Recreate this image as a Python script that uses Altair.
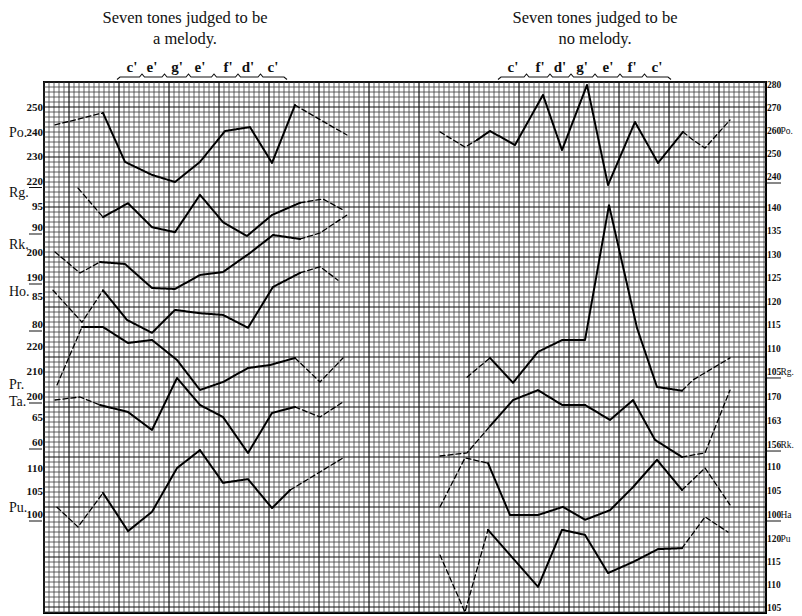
import altair as alt
import numpy as np
import pandas as pd

W, H = 722, 531
XMAX, YMAX = 144.4, 106.2   # plot extent in grid cells
SERIF = "Liberation Serif"

# ---- per-subject axis calibration: value, grid row of that value, rows per unit
calib = {
    "PoL": (250, 5.2, 0.49), "RgL": (95, 25.0, 0.84), "RkL": (200, 34.2, 0.50),
    "HoL": (85, 43.0, 1.12), "PrL": (220, 53.0, 0.50), "TaL": (65, 67.2, 1.00),
    "PuL": (110, 77.4, 0.92),
    "PoR": (280, 0.6, 0.46), "RgR": (140, 25.2, 0.937), "RkR": (170, 63.0, 0.686),
    "HaR": (110, 77.0, 0.96), "PuR": (115, 96.0, 0.92),
}

# ---- left panel: seven tones judged to be a melody
po_l_t = [2.2, 11.8, 16.2, 21.6, 26.2, 31.2, 36.2, 41.2, 45.6, 50.2, 57.8, 60.6]
po_l_v = [243.1, 248, 228, 222.7, 219.8, 228, 240.6, 242.2, 227.6, 251.2, 242.2, 239]
rg_l_t = [6.8, 11.8, 16.8, 21.6, 26.2, 31.2, 35.8, 40.6, 45.6, 51.2, 55.8, 59.8]
rg_l_v = [99.5, 92.6, 95.9, 90.2, 89.0, 97.9, 91.4, 88.1, 93.1, 96.0, 96.9, 94.3]
rk_l_t = [2.2, 7.2, 11.2, 16.2, 21.6, 26.2, 31.2, 35.8, 41.2, 45.8, 51.2, 55.2, 60.6]
rk_l_v = [200.4, 192, 196.4, 195.6, 186, 185.6, 191.2, 192.4, 200, 207.2, 205.6, 208, 215.2]
ho_l_t = [1.8, 7.6, 11.8, 16.6, 21.6, 26.2, 31.2, 35.8, 40.8, 45.8, 51.2, 55.2, 58.8]
ho_l_v = [86.2, 80.5, 86.2, 80.9, 78.6, 82.7, 82.1, 81.8, 79.5, 86.8, 89.3, 90.4, 88.0]
pr_l_t = [2.6, 7.6, 11.8, 16.8, 21.6, 26.6, 31.2, 35.8, 40.8, 45.2, 50.2, 55.2, 59.8]
pr_l_v = [204.8, 228, 228, 221.6, 222.8, 214.8, 202.8, 206, 211.6, 212.8, 215.6, 206, 215.6]
ta_l_t = [2.2, 7.2, 11.2, 16.8, 21.6, 26.6, 31.2, 35.8, 40.8, 45.6, 50.2, 55.2, 59.8]
ta_l_v = [68.6, 69.2, 67.6, 66.2, 62.6, 73, 67.6, 65.2, 58, 66, 67.2, 65.2, 68.2]
pu_l_t = [2.6, 6.8, 11.8, 16.8, 21.6, 26.6, 31.2, 35.8, 40.8, 45.6, 49.2, 59.8]
pu_l_v = [101.7, 97.4, 104.8, 96.5, 100.7, 110.2, 114.1, 107.0, 107.8, 101.5, 105.4, 112.4]

# ---- right panel: seven tones judged to be no melody
po_r_t = [79.2, 84.2, 86.6, 89.2, 94.2, 99.8, 103.6, 108.6, 112.8, 118.2, 122.8, 127.8, 129.8, 132.2, 137.2]
po_r_v = [259.6, 253, 256.1, 260, 253.9, 275.7, 251.7, 280, 236.5, 263.9, 246.1, 259.6, 256.1, 252.6, 264.8]
rg_r_t = [84.6, 89.2, 93.8, 98.8, 103.6, 108.2, 113, 118.6, 122.6, 127.6, 129.8, 137.2]
rg_r_v = [103.9, 108.0, 102.7, 109.3, 111.8, 111.8, 140.6, 114.4, 101.8, 101.0, 103.3, 108.0]
rk_r_t = [79.2, 84.6, 89.2, 93.8, 98.8, 103.6, 108.2, 113.2, 117.8, 122.2, 127.6, 132.2, 137.2]
rk_r_v = [152.8, 153.7, 161.5, 169.1, 172.0, 167.7, 167.7, 163.3, 169.1, 157.5, 152.5, 153.7, 172.0]
ha_r_t = [79.2, 84.2, 88.8, 93.2, 98.8, 103.8, 108.2, 113.2, 117.8, 122.6, 127.6, 132.2, 137.2]
ha_r_v = [101.7, 111.9, 110.8, 100, 100, 101.7, 99.0, 101.0, 105.8, 111.5, 105.2, 109.8, 102.1]
pu_r_t = [79.2, 84.2, 88.8, 98.8, 103.6, 108.2, 112.8, 117.8, 122.8, 127.6, 132.2, 136.8]
pu_r_v = [116.5, 104.1, 122.0, 109.6, 122.0, 120.9, 112.6, 115.0, 117.8, 118.0, 124.8, 121.5]

# key, times, values, first solid index, last solid index
traces = [
    ("PoL", po_l_t, po_l_v, 1, 9), ("RgL", rg_l_t, rg_l_v, 1, 9),
    ("RkL", rk_l_t, rk_l_v, 2, 10), ("HoL", ho_l_t, ho_l_v, 2, 10),
    ("PrL", pr_l_t, pr_l_v, 1, 10), ("TaL", ta_l_t, ta_l_v, 2, 10),
    ("PuL", pu_l_t, pu_l_v, 2, 10),
    ("PoR", po_r_t, po_r_v, 2, 11), ("RgR", rg_r_t, rg_r_v, 1, 9),
    ("RkR", rk_r_t, rk_r_v, 2, 10), ("HaR", ha_r_t, ha_r_v, 2, 10),
    ("PuR", pu_r_t, pu_r_v, 2, 9),
]

# ---- tick labels
ticks_left = {
    "PoL": [250, 240, 230, 220], "RgL": [95, 90], "RkL": [200, 190], "HoL": [85, 80],
    "PrL": [220, 210, 200], "TaL": [65, 60], "PuL": [110, 105, 100],
}
ticks_right = {
    "PoR": [280, 270, 260, 250, 240], "RgR": [140, 135, 130, 125, 120, 115, 110, 105],
    "RkR": [170, 163, 156], "HaR": [110, 105, 100], "PuR": [120, 115, 110, 105],
}
underlined = {"PoL": 220, "RgL": 90, "RkL": 190, "HoL": 80, "PrL": 200, "TaL": 60,
              "PuL": 100, "PoR": 240, "RgR": 105, "RkR": 156, "HaR": 100}
names_left = [("Po.", "PoL", 240), ("Rg.", "RgL", 98.3), ("Rk.", "RkL", 203.2),
              ("Ho.", "HoL", 85.9), ("Pr.", "PrL", 204.8), ("Ta.", "TaL", 68.2),
              ("Pu.", "PuL", 101.5)]
names_right = [("Po.", "PoR", 260), ("Rg.", "RgR", 105), ("Rk.", "RkR", 156),
               ("Ha", "HaR", 100), ("Pu", "PuR", 120)]

tones_left = ["c'", "e'", "g'", "e'", "f'", "d'", "c'"]
tones_left_t = [17.6, 21.6, 26.6, 31.2, 36.8, 40.8, 45.8]
tones_right = ["c'", "f'", "d'", "g'", "e'", "f'", "c'"]
tones_right_t = [93.8, 99.2, 103.2, 107.6, 112.8, 117.6, 122.6]

titles = [("Seven tones judged to be", "a melody.", 28.2),
          ("Seven tones judged to be", "no melody.", 110.2)]


def row(key, v):
    v0, r0, k = calib[key]
    return r0 + (v0 - v) * k


# ---- build tables
recs = []
for key, ts, vs, s0, s1 in traces:
    for i, (t, v) in enumerate(zip(ts, vs)):
        r = row(key, v)
        if i <= s0:
            recs.append(dict(seg=key + "a", style="dashed", o=i, t=t, r=r))
        if s0 <= i <= s1:
            recs.append(dict(seg=key + "b", style="solid", o=i, t=t, r=r))
        if i >= s1:
            recs.append(dict(seg=key + "c", style="dashed", o=i, t=t, r=r))
lines_df = pd.DataFrame(recs)

tl = [dict(label=str(v), r=row(k, v), u=(underlined.get(k) == v)) for k, vals in ticks_left.items() for v in vals]
tr = [dict(label=str(v), r=row(k, v), u=(underlined.get(k) == v)) for k, vals in ticks_right.items() for v in vals]
tl_df, tr_df = pd.DataFrame(tl), pd.DataFrame(tr)
nl_df = pd.DataFrame([dict(label=n, r=row(k, v)) for n, k, v in names_left])
nr_df = pd.DataFrame([dict(label=n, r=row(k, v)) for n, k, v in names_right])
tones_df = pd.DataFrame({"label": tones_left + tones_right, "t": tones_left_t + tones_right_t})
titles_df = pd.DataFrame([dict(l1=a, l2=b, t=t) for a, b, t in titles])

# braces under the tone letters (derived from the tone positions)
brace = []
for p, tt in enumerate([tones_left_t, tones_right_t]):
    pts = [(tt[0] - 3.0, -0.5), (tt[0] - 2.4, -1.0)]
    for i, t in enumerate(tt):
        if i > 0:
            m = (tt[i - 1] + t) / 2
            pts += [(m - 0.5, -1.0), (m, -1.6), (m + 0.5, -1.0)]
    pts += [(tt[-1] + 2.2, -1.0), (tt[-1] + 2.8, -0.5)]
    for j, (x, y) in enumerate(pts):
        brace.append(dict(p=p, o=j, t=x, r=y))
brace_df = pd.DataFrame(brace)

gx = np.arange(0, XMAX, 1.0)
gy = np.arange(0, YMAX, 1.0)
gx_df = pd.DataFrame({"t": gx, "major": (gx % 10 == 5)})
gy_df = pd.DataFrame({"r": gy, "major": (gy % 10 == 5)})

X = alt.X("t:Q", scale=alt.Scale(domain=[0, XMAX], nice=False, zero=False), axis=None)
Y = alt.Y("r:Q", scale=alt.Scale(domain=[0, YMAX], reverse=True, nice=False, zero=False), axis=None)

grid_v_min = alt.Chart(gx_df).transform_filter("!datum.major").mark_rule(color="#3a3a3a", strokeWidth=0.8).encode(x=X)
grid_v_maj = alt.Chart(gx_df).transform_filter("datum.major").mark_rule(color="#111", strokeWidth=1.2).encode(x=X)
grid_h_min = alt.Chart(gy_df).transform_filter("!datum.major").mark_rule(color="#3a3a3a", strokeWidth=0.8).encode(y=Y)
grid_h_maj = alt.Chart(gy_df).transform_filter("datum.major").mark_rule(color="#111", strokeWidth=1.2).encode(y=Y)

lines = alt.Chart(lines_df).mark_line(color="black", strokeCap="round", strokeJoin="round").encode(
    x=X, y=Y, detail="seg:N", order="o:Q",
    strokeDash=alt.StrokeDash("style:N", scale=alt.Scale(domain=["solid", "dashed"], range=[[1, 0], [5, 3]]), legend=None),
    strokeWidth=alt.StrokeWidth("style:N", scale=alt.Scale(domain=["solid", "dashed"], range=[2.0, 1.3]), legend=None),
)

lab_left = alt.Chart(tl_df).mark_text(align="right", baseline="middle", font=SERIF, fontSize=11, fontWeight="bold", color="#111").encode(
    x=alt.value(-1), y=Y, text="label:N")
lab_right = alt.Chart(tr_df).mark_text(align="left", baseline="middle", font=SERIF, fontSize=9.5, fontWeight="bold", color="#111").encode(
    x=alt.value(W + 1), y=Y, text="label:N")
ul_left = alt.Chart(tl_df).transform_filter("datum.u").mark_rule(color="#111", strokeWidth=1, yOffset=6).encode(
    y=Y, x=alt.value(-15), x2=alt.value(-2))
ul_right = alt.Chart(tr_df).transform_filter("datum.u").mark_rule(color="#111", strokeWidth=1, yOffset=6).encode(
    y=Y, x=alt.value(W + 1), x2=alt.value(W + 15))
name_left = alt.Chart(nl_df).mark_text(align="left", baseline="middle", font=SERIF, fontSize=14, color="#111").encode(
    x=alt.value(-35), y=Y, text="label:N")
name_right = alt.Chart(nr_df).mark_text(align="left", baseline="middle", font=SERIF, fontSize=9.5, color="#111").encode(
    x=alt.value(W + 14.5), y=Y, text="label:N")

tone_text = alt.Chart(tones_df).mark_text(baseline="middle", font=SERIF, fontSize=15, fontWeight="bold", color="#111").encode(
    x=X, y=alt.value(-15), text="label:N")
braces = alt.Chart(brace_df).mark_line(color="#111", strokeWidth=1.1).encode(x=X, y=Y, detail="p:N", order="o:Q")
title1 = alt.Chart(titles_df).mark_text(baseline="alphabetic", font=SERIF, fontSize=16.5, color="#111").encode(
    x=X, y=alt.value(-59), text="l1:N")
title2 = alt.Chart(titles_df).mark_text(baseline="alphabetic", font=SERIF, fontSize=16.5, color="#111").encode(
    x=X, y=alt.value(-38), text="l2:N")

chart = alt.layer(
    grid_v_min, grid_h_min, grid_v_maj, grid_h_maj, lines,
    lab_left, lab_right, ul_left, ul_right, name_left, name_right,
    tone_text, braces, title1, title2,
).properties(
    width=W, height=H,
    padding={"left": 36, "top": 74, "right": 28, "bottom": 3},
    autosize=alt.AutoSizeParams(type="none"),
    background="white",
).configure_view(stroke="black", strokeWidth=2)

chart.save("out.html", embed_options={"renderer": "svg", "actions": False})
